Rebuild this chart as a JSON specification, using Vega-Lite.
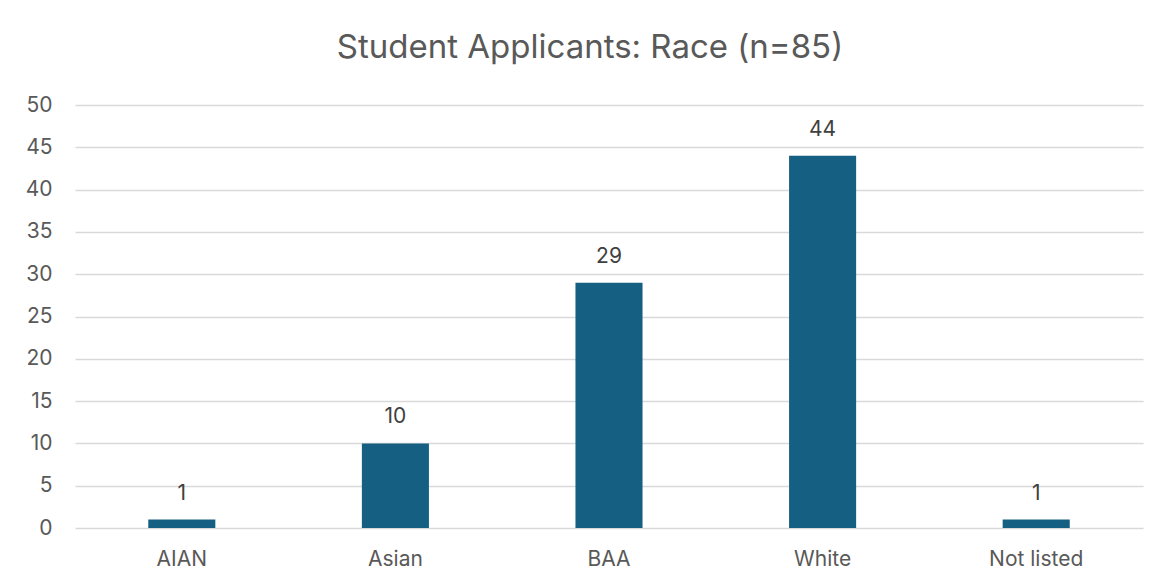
{
  "$schema": "https://vega.github.io/schema/vega-lite/v6.json",
  "autosize": {"type": "none"},
  "padding": {"left": 75, "top": 105, "right": 20, "bottom": 58},
  "width": 1068,
  "height": 423,
  "background": "white",
  "title": {
    "text": "Student Applicants: Race (n=85)",
    "anchor": "middle",
    "frame": "group",
    "dx": -19,
    "baseline": "alphabetic",
    "offset": 3,
    "font": "Inter",
    "fontSize": 33,
    "fontWeight": "normal",
    "color": "#595959"
  },
  "data": {
    "values": [
      {"race": "AIAN", "count": 1},
      {"race": "Asian", "count": 10},
      {"race": "BAA", "count": 29},
      {"race": "White", "count": 44},
      {"race": "Not listed", "count": 1}
    ]
  },
  "encoding": {
    "x": {
      "field": "race",
      "type": "nominal",
      "sort": null,
      "scale": {"paddingInner": 0.686, "paddingOuter": 0.343},
      "axis": {
        "title": null,
        "labelAngle": 0,
        "ticks": false,
        "domain": false,
        "grid": false,
        "labelPadding": 20,
        "labelFont": "Inter",
        "labelFontSize": 21,
        "labelColor": "#595959"
      }
    },
    "y": {
      "field": "count",
      "type": "quantitative",
      "scale": {"domain": [0, 50], "nice": false},
      "axis": {
        "title": null,
        "values": [0, 5, 10, 15, 20, 25, 30, 35, 40, 45, 50],
        "ticks": false,
        "domain": false,
        "labelPadding": 23,
        "labelFont": "Inter",
        "labelFontSize": 21,
        "labelColor": "#595959",
        "gridColor": "#d9d9d9",
        "gridWidth": 1.5
      }
    }
  },
  "layer": [
    {"mark": {"type": "bar", "color": "#156082"}},
    {
      "mark": {
        "type": "text",
        "baseline": "alphabetic",
        "dy": -20,
        "font": "Inter",
        "fontSize": 21,
        "color": "#404040"
      },
      "encoding": {"text": {"field": "count", "type": "quantitative"}}
    }
  ],
  "config": {"view": {"stroke": null}}
}
